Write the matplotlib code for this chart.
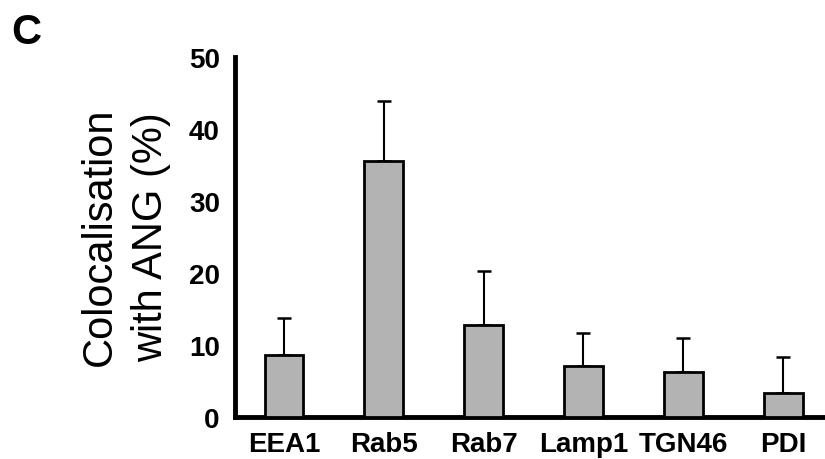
import matplotlib.pyplot as plt
import numpy as np

plt.rcParams['font.family'] = ['Liberation Sans', 'DejaVu Sans']

labels = ['EEA1', 'Rab5', 'Rab7', 'Lamp1', 'TGN46', 'PDI']
means = [8.6, 35.6, 12.8, 7.1, 6.3, 3.3]
errs = [5.1, 8.3, 7.5, 4.6, 4.6, 5.0]

fig = plt.figure(figsize=(8.25, 4.6), dpi=100)
ax = fig.add_axes([0.285, 0.0913, 0.715, 0.783])

x = np.arange(len(labels))
ax.bar(x, means, width=0.39, color='#b3b3b3', edgecolor='black', linewidth=2, zorder=3)
ax.errorbar(x, means, yerr=[np.zeros(len(errs)), errs], fmt='none', ecolor='black',
            elinewidth=1.5, capsize=5, capthick=1.8, zorder=2)

ax.set_xlim(-0.49, 5.42)
ax.set_ylim(0, 50)
ax.set_yticks([0, 10, 20, 30, 40, 50])
ax.set_xticks(x)
ax.set_xticklabels(labels)
ax.tick_params(length=0, labelsize=20)
ax.tick_params(axis='y', pad=11)
ax.tick_params(axis='x', pad=10)
for t in ax.get_xticklabels() + ax.get_yticklabels():
    t.set_fontweight('bold')

ax.spines['top'].set_visible(False)
ax.spines['right'].set_visible(False)
ax.spines['left'].set_linewidth(3.5)
ax.spines['bottom'].set_linewidth(3.5)

fig.text(0.152, 0.485, 'Colocalisation\nwith ANG (%)', rotation=90, ha='center', va='center',
         fontsize=30, linespacing=1.38)
fig.text(0.014, 0.905, 'C', fontsize=30, fontweight='bold')

fig.savefig('out.png', dpi=100)
